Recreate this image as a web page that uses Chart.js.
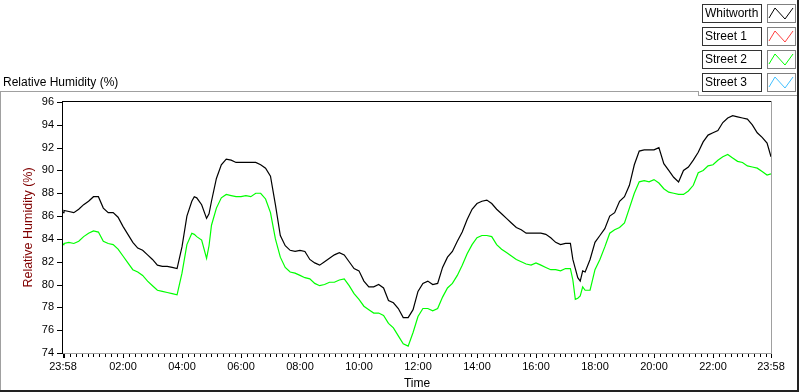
<!DOCTYPE html>
<html>
<head>
<meta charset="utf-8">
<script src="https://cdn.jsdelivr.net/npm/chart.js@4"></script>
<style>
  html, body { margin: 0; padding: 0; background: #fff; }
  #wrap { width: 800px; height: 392px; }
</style>
</head>
<body>
<div id="wrap"><canvas id="myChart" width="800" height="392"></canvas></div>
<script>
// minutes after midnight, the log starts at 23:58 the evening before (-2)
const minutes = [
  -2, 0, 10, 20, 30, 40, 50,
  60, 70, 80, 90, 100, 110,
  120, 130, 140, 150, 160, 170,
  180, 190, 200, 210, 220, 230,
  240, 250, 260, 265, 270, 280, 290, 295,
  300, 310, 320, 330, 340, 350,
  360, 370, 380, 390, 400, 410,
  420, 430, 440, 450, 460, 470,
  480, 490, 500, 510, 520, 530,
  540, 550, 560, 570, 580, 590,
  600, 610, 620, 630, 640, 650,
  660, 670, 680, 690, 700, 710,
  720, 730, 740, 750, 760, 770,
  780, 790, 800, 810, 820, 830,
  840, 850, 860, 870, 880, 890,
  900, 910, 920, 930, 940, 950,
  960, 970, 980, 990, 1000, 1010,
  1020, 1030, 1035, 1040, 1045, 1050, 1055, 1060, 1070,
  1080, 1090, 1100, 1110, 1120, 1130,
  1140, 1150, 1160, 1170, 1180, 1190,
  1200, 1210, 1220, 1230, 1240, 1250,
  1260, 1270, 1280, 1290, 1300, 1310,
  1320, 1330, 1340, 1350, 1360, 1370,
  1380, 1390, 1400, 1410, 1420, 1430, 1438
];

const whitworth = [
  86.3, 86.5, 86.4, 86.3, 86.6, 87.0, 87.3,
  87.7, 87.7, 86.7, 86.3, 86.3, 85.9,
  85.1, 84.4, 83.7, 83.2, 83.0, 82.6,
  82.2, 81.7, 81.6, 81.6, 81.5, 81.4,
  83.3, 86.0, 87.3, 87.7, 87.6, 87.0, 85.8, 86.2,
  87.3, 89.3, 90.5, 91.0, 90.9, 90.7,
  90.7, 90.7, 90.7, 90.7, 90.5, 90.2,
  89.5, 87.0, 84.3, 83.4, 83.0, 82.9,
  83.0, 82.9, 82.2, 81.9, 81.7, 82.0,
  82.3, 82.6, 82.8, 82.6, 82.0, 81.4,
  81.2, 80.3, 79.8, 79.8, 80.0, 79.7,
  78.6, 78.4, 77.9, 77.1, 77.1, 77.8,
  79.4, 80.1, 80.3, 80.0, 80.1, 81.5,
  82.4, 82.9, 83.8, 84.6, 85.7, 86.6,
  87.1, 87.3, 87.4, 87.1, 86.6, 86.2,
  85.8, 85.4, 85.0, 84.8, 84.5, 84.5,
  84.5, 84.5, 84.4, 84.1, 83.7, 83.5,
  83.6, 83.6, 82.2, 81.4, 80.6, 80.3, 81.2, 81.1, 82.2,
  83.7, 84.3, 84.9, 86.0, 86.3, 87.3,
  87.7, 88.7, 90.5, 91.7, 91.8, 91.8,
  91.8, 92.0, 90.6, 90.0, 89.4, 89.0,
  90.0, 90.3, 90.9, 91.6, 92.5, 93.1,
  93.3, 93.5, 94.2, 94.6, 94.8, 94.7,
  94.6, 94.5, 94.0, 93.3, 92.9, 92.4, 91.2
];

const street1 = [];

const street2 = [
  83.5, 83.6, 83.7, 83.6, 83.8, 84.2, 84.5,
  84.7, 84.6, 83.8, 83.6, 83.5, 83.1,
  82.5, 81.9, 81.3, 81.1, 80.8, 80.3,
  79.9, 79.5, 79.4, 79.3, 79.2, 79.1,
  81.0, 83.5, 84.5, 84.4, 84.2, 83.9, 82.3, 83.4,
  85.2, 86.7, 87.6, 87.9, 87.8, 87.7,
  87.7, 87.8, 87.7, 88.0, 88.0, 87.5,
  86.3, 84.0, 82.4, 81.5, 81.1, 81.0,
  80.8, 80.6, 80.5, 80.1, 79.9, 80.0,
  80.2, 80.2, 80.4, 80.5, 79.9, 79.2,
  78.7, 78.1, 77.8, 77.5, 77.5, 77.3,
  76.6, 76.2, 75.5, 74.8, 74.6, 75.8,
  77.2, 77.9, 77.9, 77.7, 77.9, 78.9,
  79.7, 80.1, 80.8, 81.7, 82.7, 83.5,
  84.1, 84.3, 84.3, 84.2, 83.5, 83.1,
  82.8, 82.5, 82.2, 82.0, 81.8, 81.7,
  81.9, 81.7, 81.5, 81.3, 81.3, 81.2,
  81.4, 81.4, 80.4, 78.7, 78.8, 79.0, 79.8, 79.5, 79.5,
  81.3, 82.2, 83.3, 84.5, 84.8, 85.0,
  85.4, 86.7, 88.0, 89.0, 89.1, 89.0,
  89.2, 88.9, 88.4, 88.1, 88.0, 87.9,
  87.9, 88.2, 88.7, 89.8, 90.0, 90.4,
  90.5, 90.9, 91.2, 91.4, 91.1, 90.8,
  90.7, 90.4, 90.3, 90.2, 89.9, 89.6, 89.7
];

const street3 = [];

const yTicks = [74, 76, 78, 80, 82, 84, 86, 88, 90, 92, 94, 96];
const xMajor = [-2, 120, 240, 360, 480, 600, 720, 840, 960, 1080, 1200, 1320, 1438];
const xLabels = ["23:58", "02:00", "04:00", "06:00", "08:00", "10:00", "12:00",
                 "14:00", "16:00", "18:00", "20:00", "22:00", "23:58"];

const FONT = '"Liberation Sans", Arial, sans-serif';

function pts(vals) {
  return vals.map((v, i) => ({ x: minutes[i], y: v }));
}

// panel edges, caption, tick marks and the legend boxes
const frame = {
  id: "frame",
  beforeDraw(chart) {
    const ctx = chart.ctx;
    ctx.save();
    ctx.fillStyle = "#fff";
    ctx.fillRect(0, 0, chart.width, chart.height);
    ctx.fillStyle = "#a0a0a0";
    ctx.fillRect(0, 91, 698, 1);
    ctx.fillRect(0, 91, 1, 300);
    ctx.fillRect(698, 91, 1, 5);
    ctx.fillRect(698, 95, 99, 1);
    ctx.fillStyle = "#222";
    ctx.fillRect(0, 390, 799, 2);
    ctx.fillRect(797, 0, 2, 392);

    ctx.fillStyle = "#000";
    ctx.font = "12px " + FONT;
    ctx.textBaseline = "middle";
    ctx.fillText("Relative Humidity (%)", 3, 83);
    ctx.restore();
  },
  afterDraw(chart) {
    const { ctx, chartArea: a, scales } = chart;
    const x = scales.x, y = scales.y;
    ctx.save();
    // plot border
    ctx.fillStyle = "#000";
    ctx.fillRect(a.left - 1, a.top - 1, a.right - a.left + 1, 1);
    ctx.fillRect(a.left - 1, a.top - 1, 1, a.bottom - a.top + 2);
    ctx.fillStyle = "#a0a0a0";
    ctx.fillRect(a.right, a.top - 1, 1, a.bottom - a.top + 2);
    ctx.fillRect(a.left, a.bottom, a.right - a.left + 1, 1);

    // ticks
    ctx.fillStyle = "#000";
    y.ticks.forEach((t) => {
      const py = Math.round(y.getPixelForValue(t.value));
      ctx.fillRect(a.left - 6, py, 5, 1);
    });
    x.ticks.forEach((t, i) => {
      const px = Math.round(x.getPixelForValue(t.value));
      const major = xMajor.includes(t.value);
      ctx.fillRect(px, a.bottom + 1, i === 0 ? 2 : 1, major ? 4 : 3);
    });

    // legend
    ctx.font = "12px " + FONT;
    ctx.textBaseline = "middle";
    ctx.lineWidth = 1;
    chart.data.datasets.forEach((ds, i) => {
      const top = 4 + 23 * i;
      ctx.strokeStyle = "#333";
      ctx.strokeRect(702.5, top + 0.5, 59, 18);
      ctx.fillStyle = "#000";
      ctx.fillText(ds.label, 705, top + 10);
      ctx.strokeStyle = "#808080";
      ctx.strokeRect(767.5, top + 0.5, 28, 18);
      ctx.strokeStyle = ds.borderColor;
      ctx.beginPath();
      ctx.moveTo(769, top + 14);
      ctx.lineTo(775, top + 4);
      ctx.lineTo(785, top + 15);
      ctx.lineTo(793, top + 4);
      ctx.stroke();
    });
    ctx.restore();
  }
};

const ctx = document.getElementById("myChart");

const chart = new Chart(ctx, {
  type: "line",
  data: {
    datasets: [
      { label: "Whitworth", data: pts(whitworth), borderColor: "#000000" },
      { label: "Street 1", data: pts(street1), borderColor: "#ff4040" },
      { label: "Street 2", data: pts(street2), borderColor: "#00ff00" },
      { label: "Street 3", data: pts(street3), borderColor: "#40c0ff" },
    ],
  },
  options: {
    responsive: false,
    animation: false,
    devicePixelRatio: 1,
    layout: { padding: { top: 102, right: 29, left: 0, bottom: 0 } },
    elements: {
      point: { radius: 0 },
      line: { borderWidth: 1.2, tension: 0 },
    },
    plugins: {
      legend: { display: false },
      tooltip: { enabled: false },
    },
    scales: {
      x: {
        type: "linear",
        min: -2,
        max: 1438,
        grid: { display: false, drawTicks: false },
        border: { display: false },
        afterBuildTicks: (s) => {
          const vals = [xMajor[0]];
          for (let m = 12; m <= 1428; m += 12) vals.push(m);
          vals.push(xMajor[xMajor.length - 1]);
          s.ticks = vals.map((v) => ({ value: v }));
        },
        afterFit: (s) => { s.height = 39; },
        ticks: {
          autoSkip: false,
          maxRotation: 0,
          padding: 7,
          color: "#000",
          font: { family: FONT, size: 11 },
          callback: (v) => {
            const i = xMajor.indexOf(v);
            return i >= 0 ? xLabels[i] : "";
          },
        },
        title: {
          display: true,
          text: "Time",
          color: "#000",
          font: { family: FONT, size: 12 },
          padding: { top: 0, bottom: 1 },
        },
      },
      y: {
        min: 74,
        max: 96,
        grid: { display: false, drawTicks: false },
        border: { display: false },
        afterBuildTicks: (s) => {
          s.ticks = yTicks.map((v) => ({ value: v }));
        },
        afterFit: (s) => { s.width = 63; },
        ticks: {
          padding: 9,
          color: "#000",
          font: { family: FONT, size: 11 },
        },
        title: {
          display: true,
          text: "Relative Humidity (%)",
          color: "#800000",
          font: { family: FONT, size: 12.5 },
          padding: { top: 21, bottom: 0 },
        },
      },
    },
  },
  plugins: [frame],
});
</script>
</body>
</html>
